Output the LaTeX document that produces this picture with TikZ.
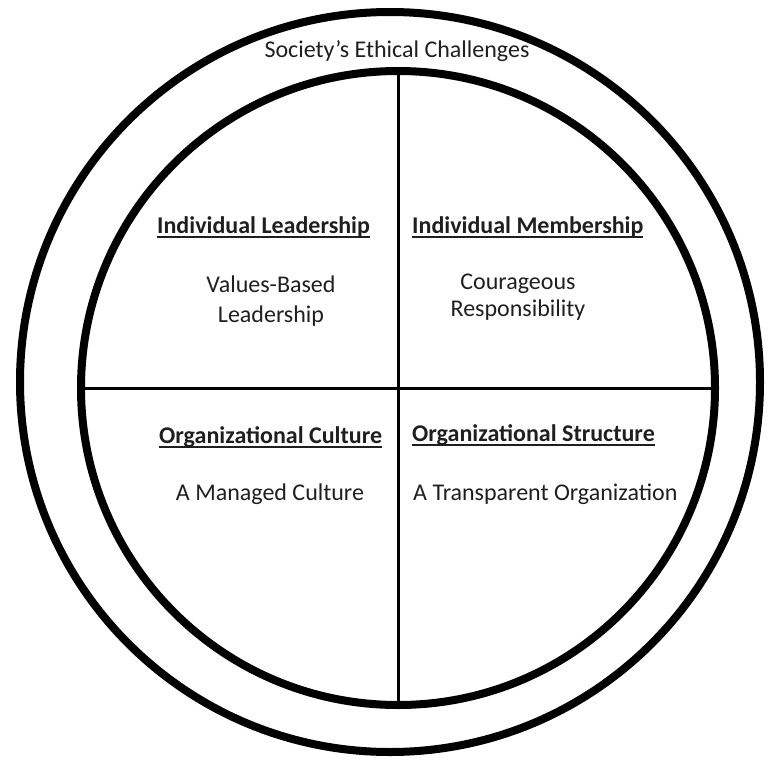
\documentclass[tikz,border=0pt]{standalone}
\usepackage{fontspec}
\setmainfont{Carlito}
% underline drawn a few points below the baseline
\newcommand{\ulheading}[1]{\setbox0\hbox{#1}\rlap{\rule[-5pt]{\wd0}{1.8pt}}\box0}
\begin{document}
\begin{tikzpicture}[x=1pt,y=-1pt,
  ring/.style={draw=black,line width=8pt},
  divider/.style={draw=black,line width=3pt},
  heading/.style={font=\fontsize{24}{28}\selectfont\bfseries,text=black!88,inner sep=0pt,anchor=base west},
  body/.style={font=\fontsize{24}{28}\selectfont,text=black!88,inner sep=0pt,anchor=base}]
  \useasboundingbox (0,0) rectangle (768,760);
  % outer and inner rings
  \draw[ring] (390,382) circle (370);
  \draw[ring] (398,388) circle (317);
  % quadrant dividers
  \coordinate (top) at (398,72);
  \coordinate (bottom) at (398,704);
  \coordinate (left) at (82,388);
  \coordinate (right) at (714,388);
  \draw[divider] (top) -- (bottom);
  \draw[divider] (left) -- (right);
  % labels
  \node[body] (society) at (397,57) {Society’s Ethical Challenges};
  \node[heading] (il) at (157,233) {\ulheading{Individual Leadership}};
  \node[body] (vb1) at (271,292) {Values-Based};
  \node[body] (vb2) at (271,322) {Leadership};
  \node[heading] (im) at (412,233) {\ulheading{Individual Membership}};
  \node[body] (cr1) at (518,289) {Courageous};
  \node[body] (cr2) at (518,316) {Responsibility};
  \node[heading] (oc) at (159,443) {\ulheading{Organizational Culture}};
  \node[body] (mc) at (270,500) {A Managed Culture};
  \node[heading] (os) at (412,441) {\ulheading{Organizational Structure}};
  \node[body,anchor=base west] (to) at (413,500) {A Transparent Organization};
\end{tikzpicture}
\end{document}
